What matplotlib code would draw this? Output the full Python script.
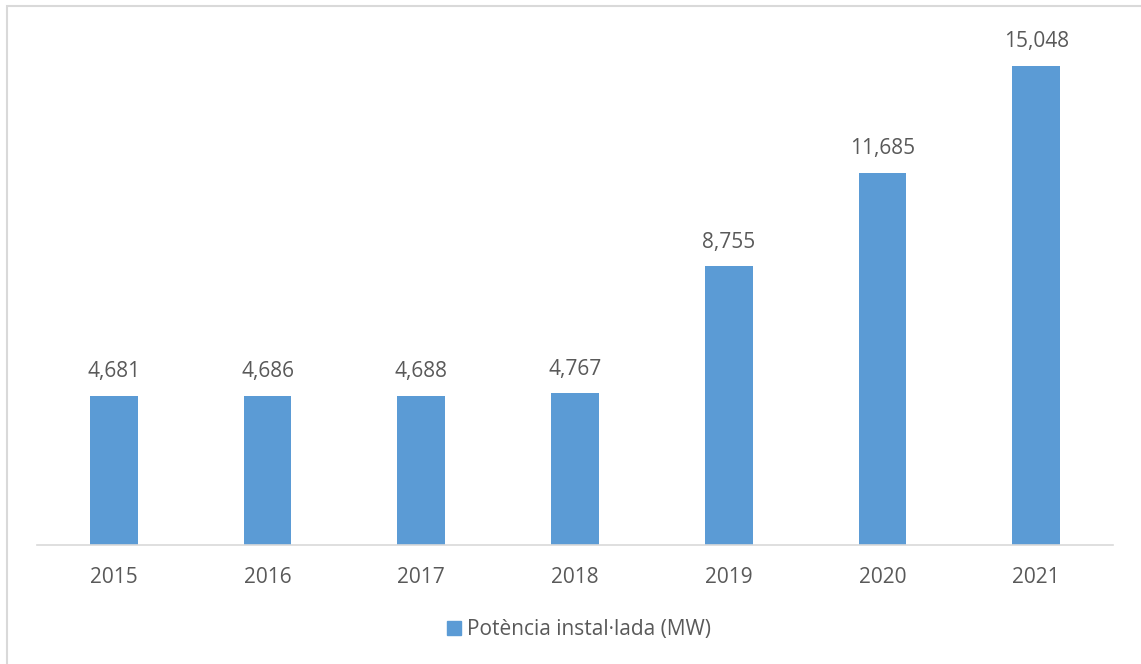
import matplotlib.pyplot as plt
from matplotlib.patches import Patch, Rectangle

plt.rcParams['font.family'] = ['Open Sans', 'DejaVu Sans']

years = ['2015', '2016', '2017', '2018', '2019', '2020', '2021']
power_mw = [4681, 4686, 4688, 4767, 8755, 11685, 15048]
series_name = 'Potència instal·lada (MW)'

bar_color = '#5B9BD5'
text_color = '#595959'
fsize = 15

fig = plt.figure(figsize=(11.41, 6.64), dpi=100)
ax = fig.add_axes([37 / 1141, 1 - 545 / 664, 1076 / 1141, 509.3 / 664])

x = range(len(years))
bars = ax.bar(x, power_mw, width=0.31, color=bar_color)

for rect, val in zip(bars, power_mw):
    ax.annotate(f'{val:,}', (rect.get_x() + rect.get_width() / 2, val),
                xytext=(0, 13.5), textcoords='offset points',
                ha='center', va='baseline', fontsize=fsize, color=text_color)

ax.set_xlim(-0.5, len(years) - 0.5)
ax.set_ylim(0, 16000)
ax.set_xticks(list(x))
ax.set_xticklabels(years, fontsize=fsize, color=text_color)
ax.tick_params(axis='x', length=0, pad=16)
ax.set_yticks([])
for side in ['top', 'right', 'left']:
    ax.spines[side].set_visible(False)
ax.spines['bottom'].set_color('#D9D9D9')
ax.spines['bottom'].set_linewidth(1.2)

leg = fig.legend(handles=[Patch(color=bar_color, label=series_name)],
                 loc='center', bbox_to_anchor=(579 / 1141, 1 - 630 / 664),
                 frameon=False, fontsize=fsize, handlelength=0.65, handleheight=0.65,
                 handletextpad=0.3)
for t in leg.get_texts():
    t.set_color(text_color)

# chart frame (only top and left edges fall inside the image)
fig.add_artist(Rectangle((7 / 1141, -0.1), 1.2, 1 - 6 / 664 + 0.1,
                         transform=fig.transFigure, fill=False,
                         edgecolor='#D9D9D9', linewidth=1.5))

fig.savefig('out.png', dpi=100)
